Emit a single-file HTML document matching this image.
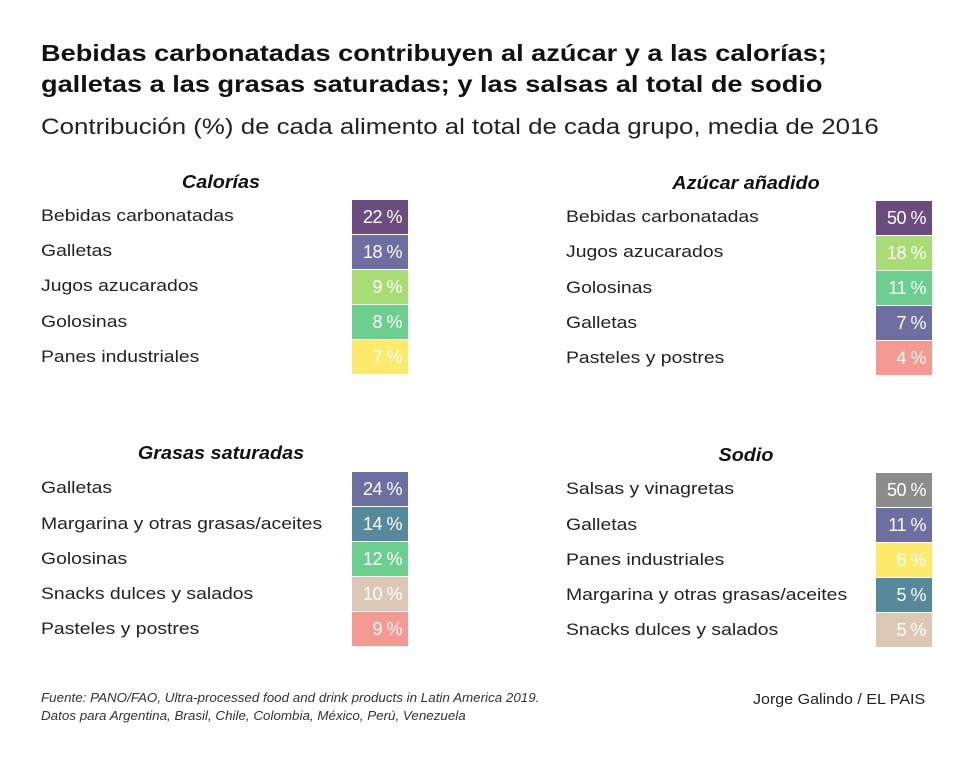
<!DOCTYPE html><html><head><meta charset="utf-8"><style>
body{margin:0;width:980px;height:762px;background:#fff;font-family:"Liberation Sans",sans-serif;color:#111;position:relative;overflow:hidden}
.a{position:absolute;white-space:nowrap}
h1{position:absolute;left:41px;top:38px;margin:0;font-size:23px;line-height:31px;font-weight:bold;transform:scaleX(1.18);transform-origin:0 0;white-space:nowrap}
.sub{left:41px;top:114px;font-size:22px;color:#222;transform:scaleX(1.175);transform-origin:0 0}
.t{font-size:18px;font-weight:bold;font-style:italic;text-align:center;width:240px;transform:scaleX(1.1)}
.l{font-size:17px;color:#222;transform:scaleX(1.14);transform-origin:0 0}
.b{width:56px;height:34px;color:#fff;font-size:18px;text-align:right;box-sizing:border-box;padding-right:6px;line-height:34px;letter-spacing:-0.5px}
.f{font-size:13px;font-style:italic;color:#333;line-height:18px;transform:scaleX(1.03);transform-origin:0 0}
</style></head><body>
<h1>Bebidas carbonatadas contribuyen al azúcar y a las calorías;<br>galletas a las grasas saturadas; y las salsas al total de sodio</h1>
<div class="a sub">Contribución (%) de cada alimento al total de cada grupo, media de 2016</div>

<div class="a t" style="left:101px;top:172px">Calorías</div>
<div class="a l" style="left:41px;top:206px">Bebidas carbonatadas</div>
<div class="a l" style="left:41px;top:241px">Galletas</div>
<div class="a l" style="left:41px;top:276px">Jugos azucarados</div>
<div class="a l" style="left:41px;top:312px">Golosinas</div>
<div class="a l" style="left:41px;top:347px">Panes industriales</div>
<div class="a b" style="left:352px;top:200px;background:#6b4c7e">22 %</div>
<div class="a b" style="left:352px;top:235px;background:#6c6fa0">18 %</div>
<div class="a b" style="left:352px;top:270px;background:#a8dc74">9 %</div>
<div class="a b" style="left:352px;top:305px;background:#6ccf90">8 %</div>
<div class="a b" style="left:352px;top:340px;background:#fdea6a">7 %</div>

<div class="a t" style="left:626px;top:173px">Azúcar añadido</div>
<div class="a l" style="left:566px;top:207px">Bebidas carbonatadas</div>
<div class="a l" style="left:566px;top:242px">Jugos azucarados</div>
<div class="a l" style="left:566px;top:278px">Golosinas</div>
<div class="a l" style="left:566px;top:313px">Galletas</div>
<div class="a l" style="left:566px;top:348px">Pasteles y postres</div>
<div class="a b" style="left:876px;top:201px;background:#6b4c7e">50 %</div>
<div class="a b" style="left:876px;top:236px;background:#a8dc74">18 %</div>
<div class="a b" style="left:876px;top:271px;background:#6ccf90">11 %</div>
<div class="a b" style="left:876px;top:306px;background:#6c6fa0">7 %</div>
<div class="a b" style="left:876px;top:341px;background:#f59a92">4 %</div>

<div class="a t" style="left:101px;top:443px">Grasas saturadas</div>
<div class="a l" style="left:41px;top:478px">Galletas</div>
<div class="a l" style="left:41px;top:514px">Margarina y otras grasas/aceites</div>
<div class="a l" style="left:41px;top:549px">Golosinas</div>
<div class="a l" style="left:41px;top:584px">Snacks dulces y salados</div>
<div class="a l" style="left:41px;top:619px">Pasteles y postres</div>
<div class="a b" style="left:352px;top:472px;background:#6c6fa0">24 %</div>
<div class="a b" style="left:352px;top:507px;background:#56899c">14 %</div>
<div class="a b" style="left:352px;top:542px;background:#6ccf90">12 %</div>
<div class="a b" style="left:352px;top:577px;background:#dcc8b4">10 %</div>
<div class="a b" style="left:352px;top:612px;background:#f59a92">9 %</div>

<div class="a t" style="left:626px;top:445px">Sodio</div>
<div class="a l" style="left:566px;top:479px">Salsas y vinagretas</div>
<div class="a l" style="left:566px;top:515px">Galletas</div>
<div class="a l" style="left:566px;top:550px">Panes industriales</div>
<div class="a l" style="left:566px;top:585px">Margarina y otras grasas/aceites</div>
<div class="a l" style="left:566px;top:620px">Snacks dulces y salados</div>
<div class="a b" style="left:876px;top:473px;background:#8c8c8c">50 %</div>
<div class="a b" style="left:876px;top:508px;background:#6c6fa0">11 %</div>
<div class="a b" style="left:876px;top:543px;background:#fdea6a">6 %</div>
<div class="a b" style="left:876px;top:578px;background:#56899c">5 %</div>
<div class="a b" style="left:876px;top:613px;background:#dcc8b4">5 %</div>

<div class="a f" style="left:41px;top:689px">Fuente: PANO/FAO, Ultra-processed food and drink products in Latin America 2019.<br>Datos para Argentina, Brasil, Chile, Colombia, México, Perú, Venezuela</div>
<div class="a" style="left:753px;top:691px;font-size:15px;color:#222;transform:scaleX(1.07);transform-origin:0 0">Jorge Galindo / EL PAIS</div>
</body></html>
